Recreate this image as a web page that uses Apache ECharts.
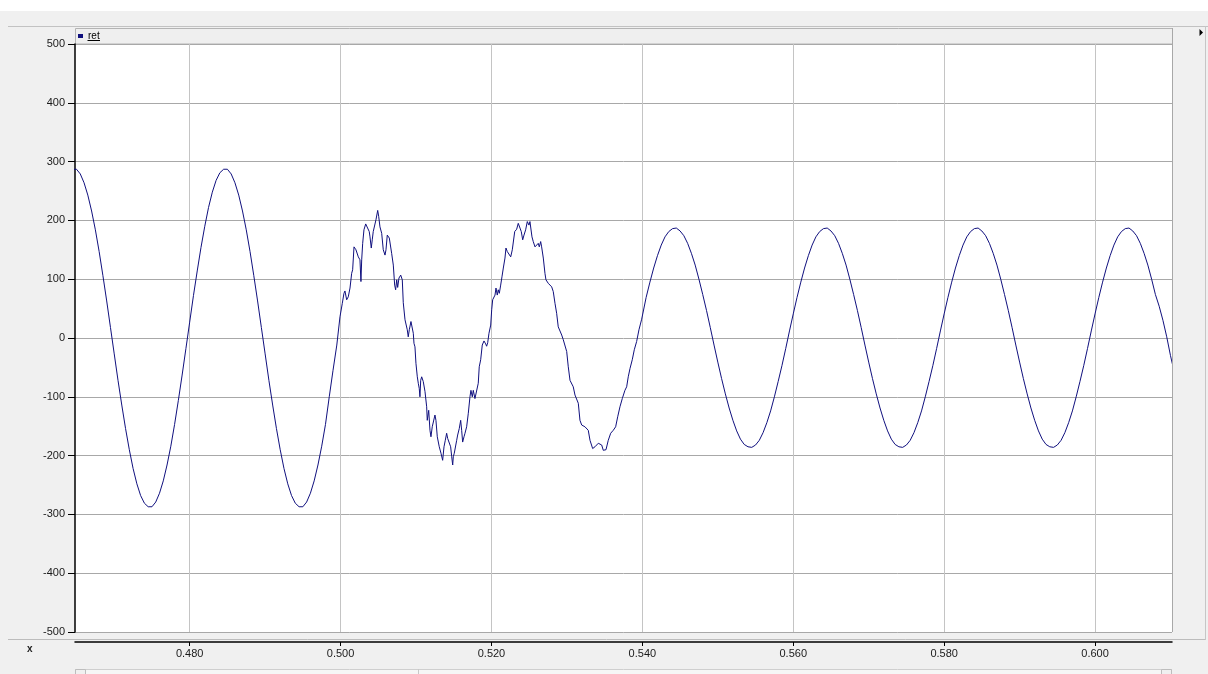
<!DOCTYPE html>
<html>
<head>
<meta charset="utf-8">
<script src="https://cdn.jsdelivr.net/npm/echarts@6/dist/echarts.min.js"></script>
<style>
  html, body { margin: 0; padding: 0; background: #f0f0f0; }
  #chart { width: 1208px; height: 674px; }
</style>
</head>
<body>
<div id="chart"></div>
<script>
// Signal "ret": steady 50 Hz wave, disturbed interval, then a lower steady wave.
const seriesName = 'ret';
const sampleStep = 0.0005;

// Pre-disturbance part, one sample every 0.5 ms starting at t = 0.4645 s
const leadStart = 0.4645;
const leadValues = [
  287, 287, 279, 264, 243, 216, 184, 147, 106, 63,
  18, -27, -72, -114, -154, -190, -222, -248, -268, -281,
  -287, -287, -279, -264, -243, -216, -184, -147, -106, -63,
  -18, 27, 72, 114, 154, 190, 222, 248, 268, 281,
  287, 287, 279, 264, 243, 216, 184, 147, 106, 63,
  18, -27, -72, -114, -154, -190, -222, -248, -268, -281,
  -287, -287, -279, -264, -243, -216, -184, -147, -100, -55,
  -12
];

// Disturbed interval, irregular sample times (s)
const disturbedTime = [
  0.49992, 0.50023, 0.50045, 0.50058, 0.50081, 0.50102, 0.50125, 0.50147, 0.50160, 0.50178,
  0.50204, 0.50235, 0.50257, 0.50270, 0.50280, 0.50293, 0.50310, 0.50333, 0.50354, 0.50380,
  0.50390, 0.50407, 0.50420, 0.50433, 0.50452, 0.50469, 0.50492, 0.50505, 0.50522, 0.50545,
  0.50566, 0.50589, 0.50602, 0.50619, 0.50632, 0.50646, 0.50664, 0.50677, 0.50699, 0.50717,
  0.50730, 0.50744, 0.50757, 0.50774, 0.50797, 0.50818, 0.50831, 0.50854, 0.50884, 0.50897,
  0.50911, 0.50933, 0.50946, 0.50964, 0.50973, 0.50986, 0.50999, 0.51017, 0.51030, 0.51043,
  0.51052, 0.51062, 0.51075, 0.51096, 0.51119, 0.51141, 0.51149, 0.51168, 0.51185, 0.51198,
  0.51215, 0.51229, 0.51251, 0.51264, 0.51282, 0.51308, 0.51331, 0.51353, 0.51371, 0.51388,
  0.51406, 0.51420, 0.51441, 0.51459, 0.51473, 0.51486, 0.51494, 0.51507, 0.51530, 0.51539,
  0.51552, 0.51573, 0.51592, 0.51605, 0.51618, 0.51636, 0.51649, 0.51671, 0.51693, 0.51715,
  0.51728, 0.51746, 0.51759, 0.51781, 0.51804, 0.51825, 0.51838, 0.51857, 0.51878, 0.51901,
  0.51923, 0.51936, 0.51950, 0.51967, 0.51990, 0.52003, 0.52016, 0.52047, 0.52060, 0.52077,
  0.52090, 0.52104, 0.52122, 0.52139, 0.52157, 0.52179, 0.52192, 0.52210, 0.52232, 0.52255,
  0.52276, 0.52289, 0.52308, 0.52334, 0.52355, 0.52378, 0.52395, 0.52414, 0.52431, 0.52453,
  0.52475, 0.52497, 0.52510, 0.52524, 0.52537, 0.52554, 0.52577, 0.52599, 0.52620, 0.52634,
  0.52652, 0.52665, 0.52687, 0.52709, 0.52722, 0.52753, 0.52798, 0.52819, 0.52842, 0.52864,
  0.52885, 0.52931, 0.52952, 0.52997, 0.53018, 0.53041, 0.53084, 0.53107, 0.53151, 0.53173,
  0.53196, 0.53239, 0.53283, 0.53306, 0.53341, 0.53372, 0.53416, 0.53438, 0.53461, 0.53482,
  0.53518, 0.53548, 0.53580, 0.53614, 0.53646, 0.53673, 0.53703, 0.53734, 0.53769, 0.53792,
  0.53813, 0.53836, 0.53866, 0.53893, 0.53924, 0.53955, 0.53991
];
const disturbedValues = [
  36, 59, 76, 80, 65, 70, 85, 110, 116, 155,
  150, 138, 133, 96, 133, 161, 184, 194, 192, 181,
  172, 153, 167, 181, 178, 201, 217, 207, 189, 178,
  150, 141, 150, 175, 178, 170, 167, 144, 124, 90,
  82, 99, 86, 102, 107, 99, 60, 31, 14, 2,
  14, 28, 25, 8, -9, -15, -43, -66, -77, -86,
  -100, -72, -66, -74, -91, -117, -140, -123, -157, -168,
  -151, -154, -131, -140, -168, -185, -196, -208, -185, -174,
  -162, -171, -174, -185, -202, -216, -202, -196, -196, -174,
  -165, -154, -140, -157, -177, -168, -162, -151, -128, -100,
  -89, -100, -89, -103, -100, -77, -49, -37, -12, -5,
  -10, -14, -8, 8, 22, 48, 65, 73, 85, 73,
  82, 76, 90, 104, 119, 136, 153, 147, 147, 138,
  150, 147, 181, 185, 195, 187, 181, 167, 175, 184,
  198, 192, 198, 195, 172, 164, 155, 158, 161, 155,
  164, 155, 136, 110, 99, 93, 87, 79, 59, 42,
  19, 5, -3, -23, -49, -72, -83, -97, -111, -140,
  -148, -151, -157, -174, -188, -185, -179, -182, -182, -191,
  -190, -174, -162, -157, -151, -134, -117, -103, -89, -83,
  -66, -52, -37, -20, -6, 14, 32
];

// Post-disturbance part, one sample every 0.5 ms starting at t = 0.5405 s
const tailStart = 0.5405;
const tailValues = [
  69, 95, 119, 140, 158, 172, 181, 186, 187, 182, 174, 161, 144, 124, 100, 74, 47, 18, -12, -41,
  -69, -95, -119, -140, -158, -172, -181, -185, -186, -182, -174, -161, -144, -124, -100, -74, -47, -18, 12, 41,
  69, 95, 119, 140, 158, 172, 181, 186, 187, 182, 174, 161, 144, 124, 100, 74, 47, 18, -12, -41,
  -69, -95, -119, -140, -158, -172, -181, -185, -186, -182, -174, -161, -144, -124, -100, -74, -47, -18, 12, 41,
  69, 95, 119, 140, 158, 172, 181, 186, 187, 182, 174, 161, 144, 124, 100, 74, 47, 18, -12, -41,
  -69, -95, -119, -140, -158, -172, -181, -185, -186, -182, -174, -161, -144, -124, -100, -74, -47, -18, 12, 41,
  69, 95, 119, 140, 158, 172, 181, 186, 187, 182, 174, 161, 144, 124, 100, 74, 54, 30, 2, -30,
  -58
];

// Axis settings
const xMin = 0.4648, xMax = 0.6102;
const xTickValues = [0.48, 0.50, 0.52, 0.54, 0.56, 0.58, 0.60];
const yMin = -500, yMax = 500, yStep = 100;

// Assemble [time, value] pairs
const points = [];
leadValues.forEach((v, i) => points.push([leadStart + i * sampleStep, v]));
disturbedTime.forEach((t, i) => points.push([t, disturbedValues[i]]));
tailValues.forEach((v, i) => points.push([tailStart + i * sampleStep, v]));

const FONT = '"Liberation Sans", Arial, sans-serif';
const chart = echarts.init(document.getElementById('chart'), null, { renderer: 'canvas' });

chart.setOption({
  animation: false,
  backgroundColor: '#f0f0f0',
  textStyle: { fontFamily: FONT },
  grid: {
    left: 75, right: 36, top: 44, bottom: 42,
    show: true, backgroundColor: '#ffffff', borderWidth: 0
  },
  legend: {
    data: [seriesName],
    left: 78, top: 31, padding: 0,
    icon: 'rect', itemWidth: 5, itemHeight: 4,
    selectedMode: false,
    textStyle: { fontSize: 10, color: '#000', fontFamily: FONT }
  },
  xAxis: {
    type: 'value',
    min: xMin, max: xMax,
    offset: 10,
    axisLine: { show: true, onZero: false, lineStyle: { color: '#000', width: 1.5 } },
    axisTick: { show: true, length: 4, customValues: xTickValues, lineStyle: { color: '#000' } },
    axisLabel: {
      customValues: xTickValues,
      margin: 6, fontSize: 11, color: '#1a1a1a', fontFamily: FONT,
      formatter: v => v.toFixed(3)
    },
    splitLine: { show: true, lineStyle: { color: '#c4c4c4', width: 1 } },
    minorTick: { show: false }
  },
  yAxis: {
    type: 'value',
    min: yMin, max: yMax, interval: yStep,
    axisLine: { show: true, onZero: false, lineStyle: { color: '#000', width: 1.5 } },
    axisTick: { show: true, length: 7, lineStyle: { color: '#000' } },
    axisLabel: { margin: 10, fontSize: 11, color: '#1a1a1a', fontFamily: FONT },
    splitLine: { show: true, lineStyle: { color: '#a8a8a8', width: 1 } }
  },
  series: [{
    name: seriesName,
    type: 'line',
    data: points,
    showSymbol: false,
    symbol: 'none',
    clip: true,
    lineStyle: { color: '#10107e', width: 1 },
    itemStyle: { color: '#10107e' },
    emphasis: { disabled: true }
  }],
  graphic: [
    // window chrome around the plot
    { type: 'rect', shape: { x: 0, y: 0, width: 1208, height: 11 }, style: { fill: '#ffffff' }, z: 0 },
    { type: 'line', shape: { x1: 8, y1: 26.5, x2: 1208, y2: 26.5 }, style: { stroke: '#c2c2c2', lineWidth: 1 } },
    { type: 'rect', shape: { x: 75.5, y: 28.5, width: 1097, height: 15.5 }, style: { fill: '#efefef', stroke: '#b4b4b4', lineWidth: 1 }, z: 0 },
    { type: 'line', shape: { x1: 1172.5, y1: 28, x2: 1172.5, y2: 632 }, style: { stroke: '#a8a8a8', lineWidth: 1 }, z: 5 },
    { type: 'line', shape: { x1: 1205.5, y1: 26, x2: 1205.5, y2: 640 }, style: { stroke: '#c6c6c6', lineWidth: 1 } },
    { type: 'line', shape: { x1: 8, y1: 639.5, x2: 1205, y2: 639.5 }, style: { stroke: '#bcbcbc', lineWidth: 1 } },
    { type: 'polygon', shape: { points: [[1199.5, 29], [1203, 32.5], [1199.5, 36]] }, style: { fill: '#000' } },
    // legend underline
    { type: 'line', shape: { x1: 87.5, y1: 40.5, x2: 100, y2: 40.5 }, style: { stroke: '#000', lineWidth: 1 }, z: 10 },
    // x axis name
    { type: 'text', x: 27, y: 644, style: { text: 'x', fontSize: 10, fontWeight: 'bold', fill: '#222', fontFamily: FONT } },
    // scroll bar strip along the bottom
    { type: 'rect', shape: { x: 75.5, y: 669.5, width: 1096, height: 8 }, style: { fill: '#f6f6f6', stroke: '#cfcfcf', lineWidth: 1 } },
    { type: 'rect', shape: { x: 75.5, y: 669.5, width: 10, height: 8 }, style: { fill: '#f0f0f0', stroke: '#bdbdbd', lineWidth: 1 } },
    { type: 'line', shape: { x1: 418.5, y1: 669, x2: 418.5, y2: 674 }, style: { stroke: '#c8c8c8', lineWidth: 1 } },
    { type: 'rect', shape: { x: 1161.5, y: 669.5, width: 10, height: 8 }, style: { fill: '#f0f0f0', stroke: '#bdbdbd', lineWidth: 1 } }
  ]
});
</script>
</body>
</html>
